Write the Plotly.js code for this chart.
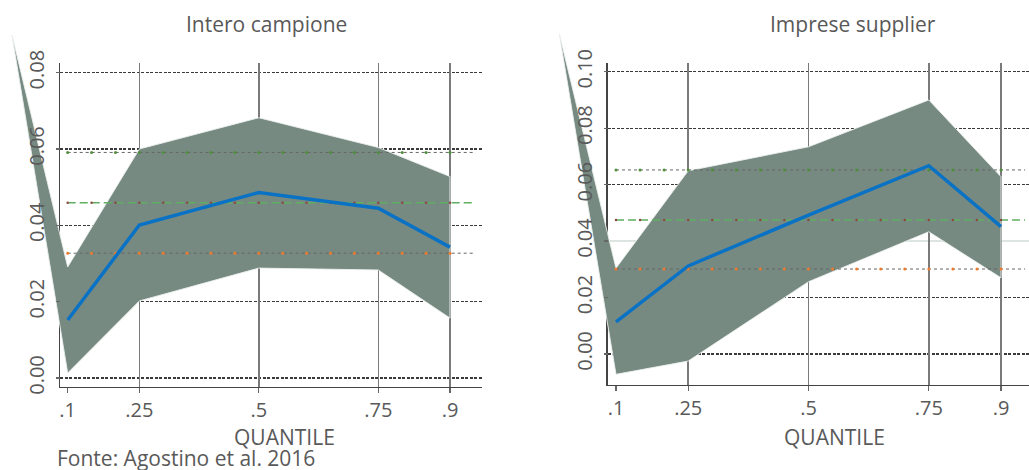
<!DOCTYPE html>
<html>
<head>
<meta charset="utf-8">
<script src="https://cdn.plot.ly/plotly-3.0.1.min.js"></script>
<style>
  html, body { margin: 0; padding: 0; background: #ffffff; }
  #chart { width: 1029px; height: 470px; }
</style>
</head>
<body>
<div id="chart"></div>
<script>
// ---------------- DATA ----------------
const quantiles = [0.1, 0.25, 0.5, 0.75, 0.9];
const quantileLabels = ['.1', '.25', '.5', '.75', '.9'];
const olsSpan = [0.1, 0.95];
const olsMarks = [0.1, 0.15, 0.2, 0.25, 0.3, 0.35, 0.4, 0.45, 0.5, 0.55, 0.6, 0.65, 0.7, 0.75, 0.8, 0.85, 0.9];

// Intero campione
const allCoef  = [0.0152, 0.0401, 0.0486, 0.0445, 0.0343];
const allUpper = [0.0291, 0.0600, 0.0682, 0.0604, 0.0528];
const allLower = [0.0013, 0.0202, 0.0288, 0.0283, 0.0157];
const allOls   = 0.0459;
const allOlsHi = 0.0591;
const allOlsLo = 0.0327;
const allBandStart = [-0.0166, 0.0899];   // stray first vertex of the band polygon
const allYTicks = [0, 0.02, 0.04, 0.06, 0.08];
const allYLabels = ['0.00', '0.02', '0.04', '0.06', '0.08'];

// Imprese supplier
const supCoef  = [0.0114, 0.0312, 0.0492, 0.0667, 0.0451];
const supUpper = [0.0304, 0.0649, 0.0734, 0.0900, 0.0628];
const supLower = [-0.0072, -0.0025, 0.0256, 0.0433, 0.0270];
const supOls   = 0.0475;
const supOlsHi = 0.0652;
const supOlsLo = 0.0301;
const supBandStart = [-0.0178, 0.1134];
const supYTicks = [0, 0.02, 0.04, 0.06, 0.08, 0.10];
const supYLabels = ['0.00', '0.02', '0.04', '0.06', '0.08', '0.10'];
const supDashedGrid = [0, 0.02, 0.06, 0.08, 0.10];
const supLightGrid = [0.04];

const titles = ['Intero campione', 'Imprese supplier'];
const xTitle = 'QUANTILE';
const source = 'Fonte: Agostino et al. 2016';

// ---------------- LAYOUT HELPERS ----------------
const W = 1029, H = 470;
const px = p => p / W;
const py = p => 1 - p / H;
const FONT = 'Open Sans, Noto Sans, sans-serif';
const TXT = '#595959';
const GRID = '#3a3a3a';

function ext(range, dom, big) {
  const span = (range[1] - range[0]) / (dom[1] - dom[0]);
  return [range[0] - (dom[0] - big[0]) * span, range[1] + (big[1] - dom[1]) * span];
}

const p1 = {
  xdom: [px(60), px(482)], ydom: [py(387), py(63)],
  xr: [0.0839, 0.967], yr: [-0.00236, 0.08254],
  bxdom: [px(0), px(482)], bydom: [py(387), py(12)], axisX: px(60)
};
const p2 = {
  xdom: [px(607.7), 1], ydom: [py(385), py(62.7)],
  xr: [0.08275, 0.9582], yr: [-0.01098, 0.10319],
  bxdom: [px(540), 1], bydom: [py(385), py(12)], axisX: px(607.7)
};

// empty traces that only make the axis-only subplots exist
const axisHolders = [['x', 'y'], ['x2', 'y2'], ['x5', 'y'], ['x6', 'y2'], ['x2', 'y6'], ['x2', 'y7']]
  .map(([xa, ya]) => ({ x: [], y: [], xaxis: xa, yaxis: ya, mode: 'lines', showlegend: false }));

function panelTraces(coef, upper, lower, ols, hi, lo, start, xa, ya) {
  const bx = [start[0]].concat(quantiles, quantiles.slice().reverse(), [start[0]]);
  const by = [start[1]].concat(upper, lower.slice().reverse(), [start[1]]);
  const flat = v => olsSpan.map(() => v);
  const flatM = v => olsMarks.map(() => v);
  return [
    { x: bx, y: by, xaxis: xa, yaxis: ya, mode: 'lines', fill: 'toself',
      fillcolor: '#778a82', line: { color: 'rgba(235,240,238,0.9)', width: 1 } },
    { x: olsSpan, y: flat(hi), xaxis: xa, yaxis: ya, mode: 'lines',
      line: { color: '#666', width: 1, dash: 'dot' } },
    { x: olsMarks, y: flatM(hi), xaxis: xa, yaxis: ya, mode: 'markers',
      marker: { color: '#4f8f3a', size: 3 } },
    { x: olsSpan, y: flat(lo), xaxis: xa, yaxis: ya, mode: 'lines',
      line: { color: '#666', width: 1, dash: 'dot' } },
    { x: olsMarks, y: flatM(lo), xaxis: xa, yaxis: ya, mode: 'markers',
      marker: { color: '#f07a2a', size: 3 } },
    { x: olsSpan, y: flat(ols), xaxis: xa, yaxis: ya, mode: 'lines',
      line: { color: '#5fae62', width: 1.5, dash: '8px,4px' } },
    { x: olsMarks, y: flatM(ols), xaxis: xa, yaxis: ya, mode: 'markers',
      marker: { color: '#8a4a40', size: 2.5 } },
    { x: quantiles, y: coef, xaxis: xa, yaxis: ya, mode: 'lines',
      line: { color: '#0a72c4', width: 3.5 } }
  ];
}

const data = [].concat(
  axisHolders,
  panelTraces(allCoef, allUpper, allLower, allOls, allOlsHi, allOlsLo, allBandStart, 'x3', 'y3'),
  panelTraces(supCoef, supUpper, supLower, supOls, supOlsHi, supOlsLo, supBandStart, 'x4', 'y4')
);

const tickFont = { family: FONT, size: 20, color: TXT };

function xMain(p) {
  return { domain: p.xdom, range: p.xr, tickvals: quantiles, ticktext: quantileLabels,
    ticks: 'outside', ticklen: 5, tickwidth: 1.3, tickcolor: '#666',
    showline: true, linecolor: '#444', linewidth: 1.3, showgrid: false, zeroline: false,
    tickfont: tickFont, fixedrange: true };
}
function xGrid(p, over, anchor) {
  return { overlaying: over, anchor: anchor, range: p.xr, tickvals: quantiles.slice(1),
    showticklabels: false, ticks: '', showgrid: true, gridcolor: '#7a7a7a', gridwidth: 1.4,
    showline: false, zeroline: false, fixedrange: true };
}
function yMain(p, tv, grid) {
  return { domain: p.ydom, range: p.yr, tickvals: tv, showticklabels: false, ticks: '',
    showline: true, linecolor: '#444', linewidth: 1.3, zeroline: false,
    showgrid: grid, gridcolor: GRID, gridwidth: 1.2, griddash: '3px,1.5px', fixedrange: true };
}
// y axis carrying ticks and labels, laid on the same scale as the band subplot so labels sit above it
function yLabels(p, tv, tt, anchorX) {
  return { domain: p.bydom, range: ext(p.yr, p.ydom, p.bydom), anchor: 'free', position: p.axisX,
    tickvals: tv, ticktext: tt, tickangle: -90, ticks: 'outside', ticklen: 4, tickwidth: 1.3,
    tickcolor: '#666', ticklabelstandoff: 4, showline: false, showgrid: false, zeroline: false,
    tickfont: tickFont, fixedrange: true };
}

const layout = {
  width: W, height: H,
  margin: { l: 0, r: 0, t: 0, b: 0, pad: 0 },
  paper_bgcolor: '#ffffff', plot_bgcolor: 'rgba(0,0,0,0)',
  showlegend: false, hovermode: false,
  font: { family: FONT, color: TXT },

  xaxis: Object.assign(xMain(p1), { anchor: 'y' }),
  yaxis: Object.assign(yMain(p1, allYTicks, true), { anchor: 'x' }),
  xaxis2: Object.assign(xMain(p2), { anchor: 'y2' }),
  yaxis2: Object.assign(yMain(p2, supYTicks, false), { anchor: 'x2' }),

  xaxis5: xGrid(p1, 'x', 'y'),
  xaxis6: xGrid(p2, 'x2', 'y2'),
  yaxis6: { overlaying: 'y2', anchor: 'x2', range: p2.yr, tickvals: supDashedGrid,
    showticklabels: false, ticks: '', showgrid: true, gridcolor: GRID, gridwidth: 1.2,
    griddash: '3px,1.5px', showline: false, zeroline: false, fixedrange: true },
  yaxis7: { overlaying: 'y2', anchor: 'x2', range: p2.yr, tickvals: supLightGrid,
    showticklabels: false, ticks: '', showgrid: true, gridcolor: '#dde5e1', gridwidth: 1.2,
    showline: false, zeroline: false, fixedrange: true },

  xaxis3: { domain: p1.bxdom, range: ext(p1.xr, p1.xdom, p1.bxdom), anchor: 'y3', visible: false, fixedrange: true },
  yaxis3: yLabels(p1, allYTicks, allYLabels),
  xaxis4: { domain: p2.bxdom, range: ext(p2.xr, p2.xdom, p2.bxdom), anchor: 'y4', visible: false, fixedrange: true },
  yaxis4: yLabels(p2, supYTicks, supYLabels),

  annotations: [
    { text: titles[0], xref: 'paper', yref: 'paper', x: px(266.7), y: py(24), xanchor: 'center', yanchor: 'middle',
      showarrow: false, font: { family: FONT, size: 21, color: TXT } },
    { text: titles[1], xref: 'paper', yref: 'paper', x: px(853.3), y: py(24), xanchor: 'center', yanchor: 'middle',
      showarrow: false, font: { family: FONT, size: 21, color: TXT } },
    { text: xTitle, xref: 'paper', yref: 'paper', x: px(284.5), y: py(437), xanchor: 'center', yanchor: 'middle',
      showarrow: false, font: { family: FONT, size: 21, color: TXT } },
    { text: xTitle, xref: 'paper', yref: 'paper', x: px(834), y: py(437), xanchor: 'center', yanchor: 'middle',
      showarrow: false, font: { family: FONT, size: 21, color: TXT } },
    { text: source, xref: 'paper', yref: 'paper', x: px(55), y: py(458), xanchor: 'left', yanchor: 'middle',
      showarrow: false, font: { family: FONT, size: 21, color: TXT } }
  ]
};

Plotly.newPlot('chart', data, layout, { displayModeBar: false, staticPlot: true });
</script>
</body>
</html>
